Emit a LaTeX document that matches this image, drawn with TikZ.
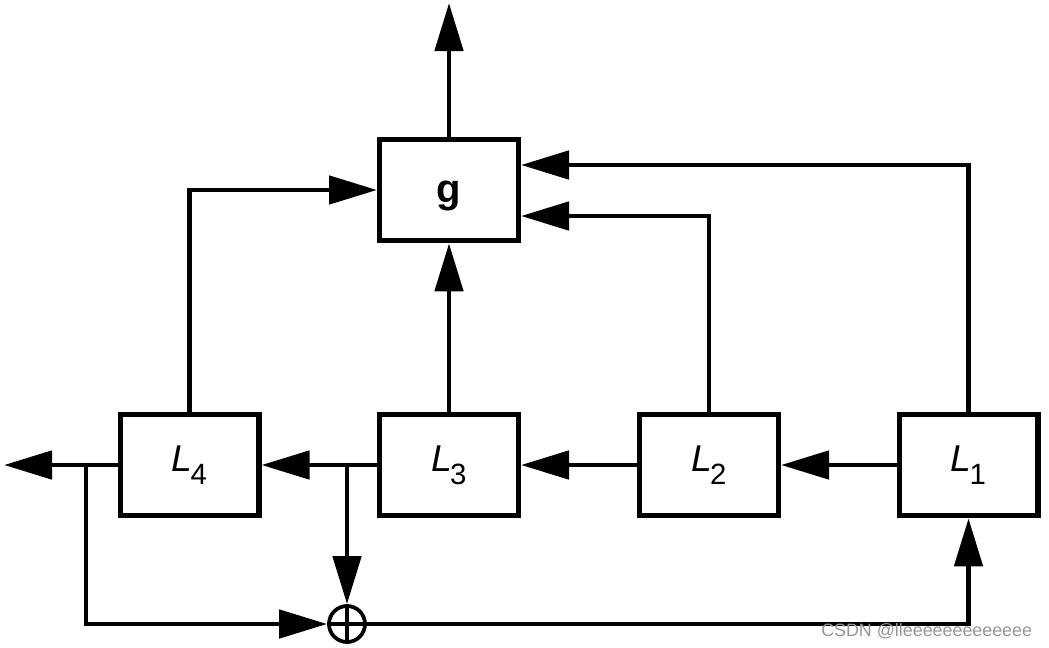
\documentclass[tikz,border=0pt]{standalone}
\usepackage{fontspec}
\setmainfont{Liberation Sans}
\usepackage{xcolor}
\usetikzlibrary{arrows.meta}
\definecolor{wmgray}{RGB}{150,150,150}
\newcommand{\lab}[1]{{\fontsize{28}{28}\selectfont\textit{L}}\kern-1.5pt\raisebox{-10pt}{\fontsize{22}{22}\selectfont #1}}

\begin{document}
\begin{tikzpicture}[x=0.75pt,y=0.75pt,yscale=-1,xscale=1,
  blk/.style={draw, line width=4pt, minimum width=104pt, minimum height=76pt, inner sep=0pt},
  xorc/.style={draw, circle, line width=2.8pt, minimum size=27pt, inner sep=0pt},
  arr/.style={line width=3.6pt, -{Triangle[length=36pt,width=21pt]}},
  ln/.style={line width=3.6pt}]
\useasboundingbox (0,0) rectangle (1049,647);

%Blocks
\node[blk] (g) at (449,190) {\smash{\raisebox{-9pt}{\fontsize{30}{30}\selectfont\bfseries g}}};
\node[blk] (L4) at (189.5,465) {\lab{4}};
\node[blk] (L3) at (449,465) {\lab{3}};
\node[blk] (L2) at (709,465) {\lab{2}};
\node[blk] (L1) at (968.5,465) {\lab{1}};
%Adder
\node[xorc] (x) at (347,624) {};
\draw[line width=2.4pt] (x.north) -- (x.south) (x.west) -- (x.east);

%Corner points
\coordinate (out) at (449,3);
\coordinate (lout) at (4,465);
\coordinate (b4) at (86,465);
\coordinate (b3) at (347,465);
\coordinate (t2) at (709,216);
\coordinate (t1) at (968.5,165);

%Straight Lines
\draw[arr] (g.north) -- (out);
\draw[arr] (L4.west) -- (lout);
\draw[arr] (L3.west) -- (L4.east);
\draw[arr] (L2.west) -- (L3.east);
\draw[arr] (L1.west) -- (L2.east);
\draw[arr] (L3.north) -- (g.south);
\draw[arr] (L4.north) |- (g.west);
\draw[arr] (L2.north) -- (t2) -- (t2 -| g.east);
\draw[arr] (L1.north) -- (t1) -- (t1 -| g.east);
%Feedback
\draw[arr] (b4) |- (x.west);
\draw[arr] (b3) -- (x.north);
\draw[arr] (x.east) -| (L1.south);

% Text Node
\node[anchor=west, inner sep=0pt, text=wmgray, font=\fontsize{13.4}{13.4}\selectfont] (wm) at (821,631) {CSDN @lleeeeeeeeeeeee};
\end{tikzpicture}
\end{document}
